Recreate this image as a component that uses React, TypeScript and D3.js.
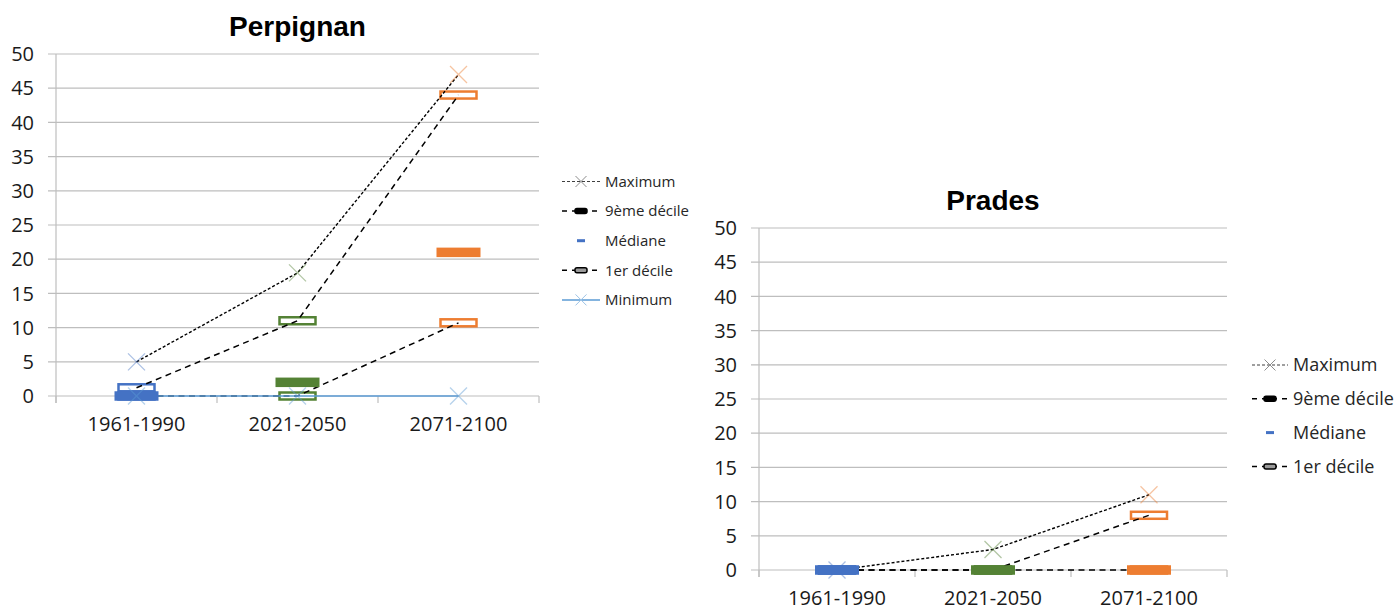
import React from 'react';
import * as d3 from 'd3';

const categories = ['1961-1990', '2021-2050', '2071-2100'];
const periodColors = ['#4472C4', '#548235', '#ED7D31'];

// Perpignan
const perpignanMax = [5, 18, 47];
const perpignanD9 = [1.2, 11, 44];
const perpignanMedian = [0, 2, 21];
const perpignanD1 = [0, 0, 10.7];
const perpignanMin = [0, 0, 0];

// Prades
const pradesMax = [0, 3, 11];
const pradesD9 = [0, 0, 8];
const pradesMedian = [0, 0, 0];
const pradesD1 = [0, 0, 0];

const legendPerpignan = ['Maximum', '9ème décile', 'Médiane', '1er décile', 'Minimum'];
const legendPrades = ['Maximum', '9ème décile', 'Médiane', '1er décile'];

const yMax = 50;
const gridColor = '#BEBEBE';
const minColor = '#5B9BD5';
const labelFont = '"Open Sans", sans-serif';

function Cross({ x, y, size, color, opacity = 1, width = 1 }) {
  const h = size / 2;
  return (
    <g stroke={color} strokeWidth={width} opacity={opacity}>
      <line x1={x - h} y1={y - h} x2={x + h} y2={y + h} />
      <line x1={x - h} y1={y + h} x2={x + h} y2={y - h} />
    </g>
  );
}

function LegendSymbol({ name, x0, x1, y }) {
  const cx = (x0 + x1) / 2;
  if (name === 'Maximum') {
    return (
      <g>
        <line x1={x0} x2={x1} y1={y} y2={y} stroke="#404040" strokeWidth={1.2} strokeDasharray="3,2" />
        <Cross x={cx} y={y} size={11} color="#8C8C8C" />
      </g>
    );
  }
  if (name === 'Médiane') {
    return <rect x={cx - 4} y={y - 1.5} width={8} height={3} fill="#4472C4" />;
  }
  if (name === 'Minimum') {
    return (
      <g>
        <line x1={x0} x2={x1} y1={y} y2={y} stroke={minColor} strokeWidth={1.5} />
        <Cross x={cx} y={y} size={11} color="#9DC3E6" />
      </g>
    );
  }
  const inner = name === '1er décile' ? '#9A9A9A' : '#000';
  return (
    <g>
      <line x1={x0} x2={x1} y1={y} y2={y} stroke="#000" strokeWidth={1.5} strokeDasharray="5,5" />
      <rect x={cx - 6} y={y - 2.5} width={12} height={5} rx={2} fill="#fff" />
      <rect x={cx - 6} y={y - 2.5} width={12} height={5} rx={2} fill={inner} stroke="#000" strokeWidth={1.5} />
    </g>
  );
}

function Chart({ title, left, right, top, bottom, maxV, d9, median, d1, minV, legend, lg }) {
  const x = d3.scaleBand().domain(categories).range([left, right]).padding(0);
  const y = d3.scaleLinear().domain([0, yMax]).range([bottom, top]);
  const cx = (c) => x(c) + x.bandwidth() / 2;
  const ticks = y.ticks(10);
  const line = d3.line().x((d) => cx(d.c)).y((d) => y(d.v));
  const pts = (arr) => arr.map((v, i) => ({ c: categories[i], v }));
  const boundaries = [left, ...categories.map((c) => x(c) + x.bandwidth())];

  const hollow = (arr, key) =>
    arr.map((v, i) => (
      <rect key={key + i} x={cx(categories[i]) - 18} y={y(v) - 3.5} width={36} height={7}
        fill="#fff" stroke={periodColors[i]} strokeWidth={2.5} />
    ));

  return (
    <g>
      <text x={(left + right) / 2} y={top - 18} textAnchor="middle" fontFamily='"Liberation Sans", Arial, sans-serif'
        fontWeight="bold" fontSize={28} fill="#000">{title}</text>
      {ticks.map((t) => (
        <g key={t}>
          <line x1={left - 8} x2={right} y1={y(t)} y2={y(t)} stroke={gridColor} strokeWidth={1.2} />
          <text x={left - 22} y={y(t)} dy="0.36em" textAnchor="end" fontFamily={labelFont} fontSize={20} fill="#1a1a1a">{t}</text>
        </g>
      ))}
      <line x1={left} x2={left} y1={top} y2={bottom + 7} stroke={gridColor} strokeWidth={1.2} />
      {boundaries.map((b, i) => (
        <line key={i} x1={b} x2={b} y1={bottom} y2={bottom + 7} stroke={gridColor} strokeWidth={1.2} />
      ))}
      {categories.map((c) => (
        <text key={c} x={cx(c)} y={bottom + 35} textAnchor="middle" fontFamily={labelFont} fontSize={20} fill="#1a1a1a">{c}</text>
      ))}

      {hollow(d9, 'd9')}
      {hollow(d1, 'd1')}

      <path d={line(pts(maxV))} fill="none" stroke="#000" strokeWidth={1.4} strokeDasharray="3,2" />
      <path d={line(pts(d9))} fill="none" stroke="#000" strokeWidth={1.5} strokeDasharray="6,4.5" />
      <path d={line(pts(d1))} fill="none" stroke="#000" strokeWidth={1.5} strokeDasharray="6,4.5" />
      {minV && <path d={line(pts(minV))} fill="none" stroke={minColor} strokeWidth={1.5} />}

      {median.map((v, i) => (
        <rect key={'m' + i} x={cx(categories[i]) - 22} y={y(v) - 4.75} width={44} height={9.5} fill={periodColors[i]} />
      ))}

      {maxV.map((v, i) => (
        <Cross key={'x' + i} x={cx(categories[i])} y={y(v)} size={17} color={periodColors[i]} opacity={0.45} width={1.2} />
      ))}
      {minV && minV.map((v, i) => (
        <Cross key={'n' + i} x={cx(categories[i])} y={y(v)} size={17} color={minColor} opacity={0.45} width={1.2} />
      ))}

      {legend.map((name, i) => {
        const ly = lg.y + i * lg.step;
        return (
          <g key={name}>
            <LegendSymbol name={name} x0={lg.x0} x1={lg.x1} y={ly} />
            <text x={lg.tx} y={ly} dy="0.35em" fontFamily={labelFont} fontSize={lg.fs} fill="#262626">{name}</text>
          </g>
        );
      })}
    </g>
  );
}

export default function App() {
  return (
    <svg width={1395} height={610} style={{ position: 'absolute', left: 0, top: 0, background: '#fff' }}>
      <Chart title="Perpignan" left={56} right={539} top={54} bottom={396}
        maxV={perpignanMax} d9={perpignanD9} median={perpignanMedian} d1={perpignanD1} minV={perpignanMin}
        legend={legendPerpignan} lg={{ x0: 562, x1: 600, tx: 605, y: 181.5, step: 29.6, fs: 15 }} />
      <Chart title="Prades" left={759} right={1227} top={228} bottom={570}
        maxV={pradesMax} d9={pradesD9} median={pradesMedian} d1={pradesD1} minV={null}
        legend={legendPrades} lg={{ x0: 1252, x1: 1288, tx: 1293, y: 365, step: 33.8, fs: 18 }} />
    </svg>
  );
}
